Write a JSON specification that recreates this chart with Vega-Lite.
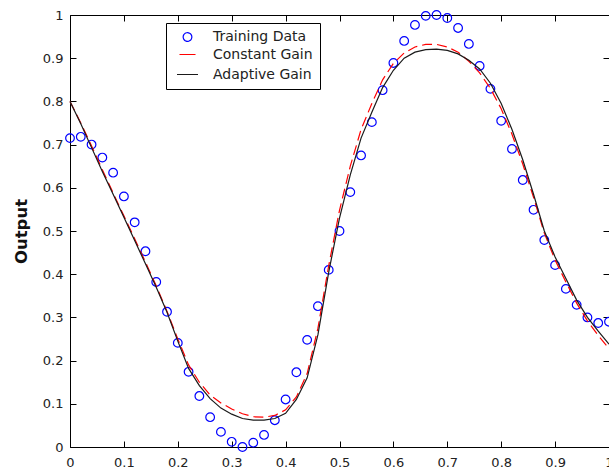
{
  "$schema": "https://vega.github.io/schema/vega-lite/v6.json",
  "width": 539,
  "height": 432,
  "autosize": {"type": "none"},
  "padding": {"left": 70, "top": 15, "right": 0, "bottom": 24},
  "background": "white",
  "config": {
    "view": {"stroke": null},
    "font": "DejaVu Sans",
    "axis": {
      "grid": false,
      "domainColor": "#000000",
      "domainWidth": 1,
      "tickColor": "#000000",
      "tickWidth": 1,
      "tickSize": -6,
      "labelFont": "DejaVu Sans",
      "labelFontSize": 13,
      "labelColor": "#222222",
      "labelFlush": false,
      "labelOverlap": false,
      "labelBound": false
    }
  },
  "data": {
    "values": [
      {"x": 0.00, "train": 0.715, "cgain": 0.800, "again": 0.800},
      {"x": 0.02, "train": 0.718, "cgain": 0.750, "again": 0.748},
      {"x": 0.04, "train": 0.700, "cgain": 0.697, "again": 0.693},
      {"x": 0.06, "train": 0.670, "cgain": 0.642, "again": 0.638},
      {"x": 0.08, "train": 0.635, "cgain": 0.588, "again": 0.585},
      {"x": 0.10, "train": 0.580, "cgain": 0.535, "again": 0.532},
      {"x": 0.12, "train": 0.520, "cgain": 0.482, "again": 0.478},
      {"x": 0.14, "train": 0.453, "cgain": 0.428, "again": 0.424},
      {"x": 0.16, "train": 0.382, "cgain": 0.373, "again": 0.370},
      {"x": 0.18, "train": 0.313, "cgain": 0.314, "again": 0.312},
      {"x": 0.20, "train": 0.241, "cgain": 0.250, "again": 0.245},
      {"x": 0.22, "train": 0.174, "cgain": 0.190, "again": 0.182},
      {"x": 0.24, "train": 0.118, "cgain": 0.150, "again": 0.142},
      {"x": 0.26, "train": 0.069, "cgain": 0.120, "again": 0.112},
      {"x": 0.28, "train": 0.035, "cgain": 0.102, "again": 0.090},
      {"x": 0.30, "train": 0.012, "cgain": 0.088, "again": 0.076},
      {"x": 0.32, "train": 0.000, "cgain": 0.077, "again": 0.066},
      {"x": 0.34, "train": 0.010, "cgain": 0.070, "again": 0.062},
      {"x": 0.36, "train": 0.028, "cgain": 0.069, "again": 0.062},
      {"x": 0.38, "train": 0.062, "cgain": 0.073, "again": 0.066},
      {"x": 0.40, "train": 0.110, "cgain": 0.086, "again": 0.078},
      {"x": 0.42, "train": 0.173, "cgain": 0.116, "again": 0.110},
      {"x": 0.44, "train": 0.248, "cgain": 0.170, "again": 0.160},
      {"x": 0.46, "train": 0.326, "cgain": 0.275, "again": 0.260},
      {"x": 0.48, "train": 0.410, "cgain": 0.420, "again": 0.405},
      {"x": 0.50, "train": 0.500, "cgain": 0.548, "again": 0.530},
      {"x": 0.52, "train": 0.590, "cgain": 0.650, "again": 0.630},
      {"x": 0.54, "train": 0.675, "cgain": 0.735, "again": 0.715},
      {"x": 0.56, "train": 0.752, "cgain": 0.795, "again": 0.775},
      {"x": 0.58, "train": 0.826, "cgain": 0.850, "again": 0.832},
      {"x": 0.60, "train": 0.889, "cgain": 0.888, "again": 0.872},
      {"x": 0.62, "train": 0.940, "cgain": 0.912, "again": 0.900},
      {"x": 0.64, "train": 0.977, "cgain": 0.926, "again": 0.914},
      {"x": 0.66, "train": 0.998, "cgain": 0.932, "again": 0.920},
      {"x": 0.68, "train": 1.000, "cgain": 0.932, "again": 0.921},
      {"x": 0.70, "train": 0.993, "cgain": 0.926, "again": 0.918},
      {"x": 0.72, "train": 0.970, "cgain": 0.914, "again": 0.910},
      {"x": 0.74, "train": 0.933, "cgain": 0.893, "again": 0.895},
      {"x": 0.76, "train": 0.882, "cgain": 0.866, "again": 0.875},
      {"x": 0.78, "train": 0.829, "cgain": 0.830, "again": 0.842},
      {"x": 0.80, "train": 0.755, "cgain": 0.783, "again": 0.795},
      {"x": 0.82, "train": 0.690, "cgain": 0.724, "again": 0.735},
      {"x": 0.84, "train": 0.618, "cgain": 0.655, "again": 0.665},
      {"x": 0.86, "train": 0.549, "cgain": 0.578, "again": 0.585},
      {"x": 0.88, "train": 0.479, "cgain": 0.495, "again": 0.500},
      {"x": 0.90, "train": 0.421, "cgain": 0.433, "again": 0.440},
      {"x": 0.92, "train": 0.366, "cgain": 0.382, "again": 0.390},
      {"x": 0.94, "train": 0.329, "cgain": 0.333, "again": 0.340},
      {"x": 0.96, "train": 0.300, "cgain": 0.292, "again": 0.300},
      {"x": 0.98, "train": 0.287, "cgain": 0.258, "again": 0.268},
      {"x": 1.00, "train": 0.290, "cgain": 0.228, "again": 0.238}
    ]
  },
  "layer": [
    {
      "mark": {"type": "point", "filled": false, "strokeWidth": 1.2, "opacity": 1},
      "encoding": {
        "x": {
          "field": "x", "type": "quantitative",
          "scale": {"domain": [0, 1], "nice": false, "zero": false},
          "axis": {
            "orient": "bottom", "title": null, "format": "~g",
            "values": [0, 0.1, 0.2, 0.3, 0.4, 0.5, 0.6, 0.7, 0.8, 0.9, 1],
            "labelPadding": 15
          }
        },
        "y": {
          "field": "train", "type": "quantitative",
          "scale": {"domain": [0, 1], "nice": false, "zero": false},
          "axis": {
            "orient": "left", "title": "Output", "format": "~g",
            "values": [0, 0.1, 0.2, 0.3, 0.4, 0.5, 0.6, 0.7, 0.8, 0.9, 1],
            "labelPadding": 13,
            "titleFont": "DejaVu Sans", "titleFontSize": 16.5, "titleFontWeight": "bold",
            "titleColor": "#111111", "titlePadding": 13
          }
        },
        "shape": {
          "datum": "train", "type": "nominal",
          "scale": {"domain": ["train", "cgain", "again"], "range": ["circle", "stroke", "stroke"]}
        },
        "size": {
          "datum": "train", "type": "ordinal",
          "scale": {"domain": ["train", "cgain", "again"], "range": [75, 441, 441]}
        },
        "color": {
          "datum": "train", "type": "nominal",
          "scale": {"domain": ["train", "cgain", "again"], "range": ["#0000ff", "#ff0000", "#1a1a1a"]},
          "legend": {
            "title": null,
            "orient": "none",
            "legendX": 96,
            "legendY": 8,
            "direction": "vertical",
            "padding": 7,
            "strokeColor": "#000000",
            "fillColor": "#ffffff",
            "cornerRadius": 0,
            "symbolOffset": 3,
            "symbolStrokeWidth": 1.2,
            "symbolFillColor": "transparent",
            "symbolDash": [1, 0],
            "rowPadding": 1.5,
            "labelOffset": 14,
            "labelFont": "DejaVu Sans",
            "labelFontSize": 14,
            "labelColor": "#222222",
            "labelExpr": "datum.value == 'train' ? 'Training Data' : datum.value == 'cgain' ? 'Constant Gain' : 'Adaptive Gain'"
          }
        }
      }
    },
    {
      "mark": {"type": "line", "strokeDash": [10, 5], "strokeWidth": 1.2},
      "encoding": {
        "x": {"field": "x", "type": "quantitative", "axis": null},
        "y": {"field": "cgain", "type": "quantitative", "axis": null},
        "color": {"datum": "cgain", "type": "nominal"}
      }
    },
    {
      "mark": {"type": "line", "strokeWidth": 1.2},
      "encoding": {
        "x": {
          "field": "x", "type": "quantitative",
          "axis": {
            "orient": "top", "title": null, "labels": false,
            "values": [0, 0.1, 0.2, 0.3, 0.4, 0.5, 0.6, 0.7, 0.8, 0.9, 1]
          }
        },
        "y": {
          "field": "again", "type": "quantitative",
          "axis": {
            "orient": "right", "title": null, "labels": false,
            "values": [0, 0.1, 0.2, 0.3, 0.4, 0.5, 0.6, 0.7, 0.8, 0.9, 1]
          }
        },
        "color": {"datum": "again", "type": "nominal"}
      }
    }
  ],
  "resolve": {"axis": {"x": "independent", "y": "independent"}}
}
